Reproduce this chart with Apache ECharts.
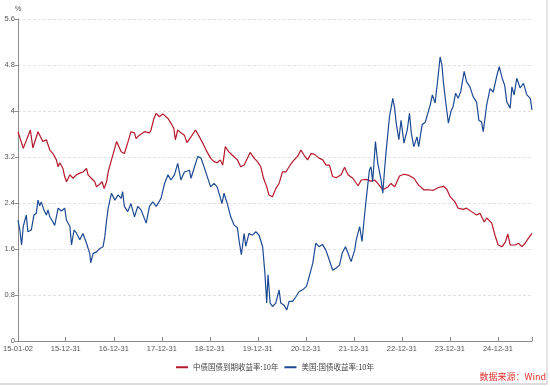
<!DOCTYPE html>
<html><head><meta charset="utf-8">
<script src="https://cdn.jsdelivr.net/npm/echarts@6/dist/echarts.min.js"></script>
<style>html,body{margin:0;padding:0;background:#fff}#c{width:550px;height:386px}</style>
</head><body><div id="c"></div>
<script>
const seriesNames = ['中债国债到期收益率:10年', '美国:国债收益率:10年'];
const xTickLabels = ['2015-01-02','2015-12-31','2016-12-31','2017-12-31','2018-12-31','2019-12-31','2020-12-31','2021-12-31','2022-12-31','2023-12-31','2024-12-31'];
const xEnd = '2025-09-16';
const yTicks = [0, 0.8, 1.6, 2.4, 3.2, 4, 4.8, 5.6];

const cnDates = ['2015-01-02','2015-02-11','2015-04-06','2015-04-25','2015-06-03','2015-07-10','2015-08-06','2015-09-01','2015-09-25','2015-10-21','2015-11-03','2015-11-16','2015-12-10','2015-12-23',
'2016-01-06','2016-02-01','2016-02-25','2016-03-21','2016-04-16','2016-05-10','2016-06-06','2016-06-18','2016-07-13','2016-08-08','2016-08-21','2016-09-16','2016-10-03','2016-10-18','2016-11-06','2016-11-18','2016-12-13',
'2017-01-03','2017-01-21','2017-02-01','2017-02-25','2017-03-21','2017-04-16','2017-05-10','2017-06-06','2017-06-18','2017-07-13','2017-08-21','2017-09-28','2017-10-10','2017-11-01','2017-11-18','2017-12-13',
'2018-01-08','2018-02-16','2018-03-10','2018-04-01','2018-04-13','2018-05-01','2018-05-25','2018-06-21','2018-07-10','2018-08-10','2018-09-13','2018-10-13','2018-11-08','2018-12-03',
'2019-01-06','2019-02-01','2019-02-25','2019-03-21','2019-04-08','2019-04-28','2019-05-25','2019-06-21','2019-07-29','2019-08-23','2019-09-18','2019-10-13','2019-11-03','2019-12-03','2019-12-28',
'2020-01-23','2020-02-13','2020-03-08','2020-03-25','2020-04-21','2020-05-16','2020-06-10','2020-07-06','2020-08-01','2020-08-25','2020-09-21','2020-10-28','2020-11-23','2020-12-18',
'2021-01-13','2021-02-08','2021-03-03','2021-04-10','2021-05-08','2021-06-03','2021-06-28','2021-07-23','2021-08-18','2021-09-25','2021-10-21','2021-11-16','2021-12-23',
'2022-02-01','2022-02-25','2022-04-03','2022-05-10','2022-06-06','2022-07-01','2022-08-08','2022-09-16','2022-10-10','2022-11-06','2022-12-13',
'2023-01-16','2023-02-23','2023-04-01','2023-05-08','2023-06-16','2023-07-23','2023-08-03','2023-08-28','2023-10-05','2023-11-13','2023-12-08',
'2024-01-02','2024-02-08','2024-03-03','2024-04-10','2024-05-06','2024-06-13','2024-07-21','2024-08-16','2024-09-18','2024-10-06','2024-11-14','2024-12-08',
'2025-01-02','2025-02-01','2025-02-25','2025-03-16','2025-04-03','2025-05-10','2025-06-05','2025-07-01','2025-07-26','2025-08-20','2025-09-16'];
const cnValues = [3.64,3.35,3.67,3.36,3.64,3.47,3.50,3.32,3.26,3.15,3.03,3.10,3.00,2.86,
2.77,2.89,2.83,2.89,2.92,2.94,3.00,2.89,2.83,2.77,2.68,2.73,2.77,2.65,2.77,2.94,3.15,
3.32,3.47,3.47,3.29,3.26,3.45,3.64,3.62,3.52,3.58,3.64,3.62,3.67,3.87,3.96,3.90,
3.95,3.87,3.79,3.70,3.50,3.67,3.62,3.58,3.45,3.55,3.67,3.55,3.44,3.32,
3.18,3.12,3.10,3.15,3.06,3.38,3.29,3.23,3.15,3.03,3.06,3.18,3.28,3.18,3.12,
3.03,2.83,2.68,2.54,2.51,2.65,2.74,2.94,2.94,3.03,3.12,3.21,3.32,3.23,
3.15,3.26,3.25,3.18,3.15,3.06,3.06,2.86,2.84,2.89,3.02,2.89,2.83,
2.70,2.80,2.81,2.78,2.80,2.74,2.63,2.68,2.74,2.68,2.87,
2.90,2.88,2.83,2.71,2.63,2.63,2.60,2.62,2.67,2.69,2.64,
2.51,2.42,2.31,2.29,2.31,2.25,2.19,2.22,2.07,2.14,2.05,1.84,
1.67,1.64,1.72,1.86,1.67,1.67,1.70,1.64,1.70,1.79,1.87];

const usDates = ['2015-01-02','2015-01-16','2015-01-29','2015-02-11','2015-02-23','2015-03-06','2015-03-18','2015-04-01','2015-04-13','2015-05-03','2015-05-21','2015-06-03','2015-06-16','2015-06-28','2015-07-18','2015-08-06','2015-08-18','2015-09-01','2015-09-25','2015-10-08','2015-11-03','2015-11-28','2015-12-23',
'2016-01-06','2016-02-01','2016-02-13','2016-03-03','2016-03-21','2016-04-16','2016-05-10','2016-06-06','2016-07-01','2016-07-08','2016-07-26','2016-08-21','2016-09-16','2016-10-10','2016-10-23','2016-11-06','2016-11-18','2016-12-13',
'2017-01-08','2017-02-01','2017-02-25','2017-03-08','2017-03-21','2017-04-16','2017-05-10','2017-06-06','2017-07-01','2017-07-26','2017-09-03','2017-09-28','2017-10-23','2017-11-18','2017-12-25',
'2018-01-21','2018-02-16','2018-03-10','2018-04-06','2018-05-01','2018-05-25','2018-06-21','2018-07-29','2018-08-10','2018-09-06','2018-10-01','2018-10-25','2018-11-08','2018-12-03',
'2019-01-06','2019-02-01','2019-02-25','2019-03-08','2019-04-03','2019-04-18','2019-05-13','2019-06-08','2019-07-03','2019-07-29','2019-08-10','2019-08-28','2019-09-18','2019-10-01','2019-10-25','2019-11-21','2019-12-16',
'2020-01-10','2020-02-06','2020-02-23','2020-03-08','2020-03-18','2020-04-03','2020-04-21','2020-05-16','2020-06-10','2020-06-23','2020-07-18','2020-08-08','2020-08-25','2020-09-21','2020-10-16','2020-11-10','2020-12-06',
'2021-01-04','2021-01-25','2021-02-21','2021-03-16','2021-04-10','2021-05-06','2021-06-01','2021-06-18','2021-06-28','2021-07-23','2021-08-18','2021-09-13','2021-10-03','2021-10-28','2021-11-16','2021-12-10',
'2022-01-06','2022-01-18','2022-02-13','2022-03-03','2022-03-21','2022-04-03','2022-04-28','2022-05-10','2022-05-23','2022-06-13','2022-07-01','2022-07-26','2022-08-08','2022-08-21','2022-09-03','2022-09-28','2022-10-10','2022-10-23','2022-11-06','2022-11-18','2022-12-08','2022-12-25',
'2023-01-16','2023-02-10','2023-02-27','2023-03-13','2023-04-01','2023-04-25','2023-05-08','2023-06-03','2023-06-28','2023-07-20','2023-08-03','2023-08-20','2023-09-10','2023-10-01','2023-10-18','2023-11-01','2023-11-13','2023-12-01','2023-12-20',
'2024-01-08','2024-01-25','2024-02-13','2024-03-03','2024-03-23','2024-04-18','2024-05-06','2024-06-01','2024-06-25','2024-07-21','2024-08-08','2024-08-28','2024-09-10','2024-10-06','2024-11-01','2024-11-25','2024-12-21',
'2025-01-10','2025-02-01','2025-02-20','2025-03-08','2025-04-03','2025-04-16','2025-05-03','2025-05-23','2025-06-18','2025-07-13','2025-08-08','2025-09-03','2025-09-16'];
const usValues = [2.10,1.93,1.67,1.99,2.10,2.19,1.90,1.88,1.93,2.19,2.22,2.45,2.35,2.42,2.28,2.19,2.28,2.16,2.07,2.01,2.31,2.26,2.31,
2.10,1.99,1.67,1.93,1.88,1.76,1.87,1.70,1.52,1.36,1.52,1.55,1.61,1.64,1.81,2.10,2.31,2.57,
2.45,2.54,2.48,2.60,2.34,2.25,2.39,2.16,2.34,2.28,2.05,2.34,2.42,2.34,2.48,
2.74,2.89,2.80,2.89,3.09,2.80,2.94,2.97,2.83,3.03,3.21,3.18,3.09,2.92,
2.68,2.74,2.68,2.65,2.39,2.57,2.39,2.16,2.02,1.97,1.76,1.50,1.87,1.65,1.87,1.84,1.90,
1.84,1.64,1.18,0.66,1.15,0.66,0.60,0.66,0.89,0.66,0.62,0.54,0.69,0.69,0.77,0.86,0.89,
0.95,1.12,1.35,1.70,1.64,1.68,1.58,1.47,1.44,1.23,1.27,1.32,1.53,1.64,1.53,1.38,
1.58,1.76,1.99,1.73,2.16,2.45,2.97,3.03,2.77,3.47,3.09,2.80,2.57,2.97,3.32,3.90,3.93,4.22,4.05,3.79,3.50,3.84,
3.44,3.67,3.96,3.61,3.38,3.55,3.38,3.76,3.81,3.99,4.10,4.28,4.14,4.57,4.94,4.80,4.48,4.13,3.79,
3.99,4.08,4.31,4.22,4.34,4.69,4.51,4.42,4.25,4.16,3.84,3.81,3.64,4.10,4.39,4.33,4.60,
4.77,4.57,4.45,4.16,4.05,4.42,4.28,4.57,4.40,4.48,4.28,4.22,4.02];

function ts(s){ const p = s.split('-').map(Number); return Date.UTC(p[0], p[1]-1, p[2]); }
function pair(dates, vals){ return dates.map((d,i)=>[ts(d), vals[i]]); }
function pad(n){ return (n<10?'0':'')+n; }

const labelTs = xTickLabels.map(ts);
const chart = echarts.init(document.getElementById('c'), null, {renderer:'canvas'});
chart.setOption({
  animation:false,
  backgroundColor:'#fff',
  grid:{left:18, right:18, top:19, bottom:45, containLabel:false},
  xAxis:{
    type:'value', min:ts(xTickLabels[0]), max:ts(xEnd), scale:true,
    axisLine:{lineStyle:{color:'#8c8c8c', width:1}},
    axisTick:{show:true, inside:true, length:4, customValues: labelTs.concat([ts(xEnd)]), lineStyle:{color:'#8c8c8c'}},
    axisLabel:{customValues: labelTs, hideOverlap:false, fontSize:7.5, color:'#555', margin:4, fontFamily:'Liberation Sans, Arial, sans-serif',
      formatter:function(v){ const d=new Date(v); return pad(d.getUTCFullYear()%100)+'-'+pad(d.getUTCMonth()+1)+'-'+pad(d.getUTCDate()); }},
    splitLine:{show:false}
  },
  yAxis:{
    type:'value', min:yTicks[0], max:yTicks[yTicks.length-1], interval:0.8,
    name:'%', nameLocation:'end', nameGap:6, nameTextStyle:{fontSize:7.5, color:'#555', align:'center'},
    axisLine:{show:true, lineStyle:{color:'#8c8c8c'}},
    axisTick:{show:true, length:3, lineStyle:{color:'#8c8c8c'}},
    axisLabel:{fontSize:7.5, color:'#555', margin:3, fontFamily:'Liberation Sans, Arial, sans-serif',
      formatter:function(v){ return String(Math.round(v*10)/10); }},
    splitLine:{show:true, lineStyle:{color:'#e2e2e2', type:[3,2], width:1}}
  },
  legend:{
    bottom:10, left:'center', itemWidth:12, itemHeight:2, itemGap:6, icon:'rect',
    textStyle:{fontSize:7.5, color:'#444', fontFamily:'Noto Sans CJK SC'},
    data:seriesNames
  },
  graphic:[
    {type:'text', right:4, top:372, style:{text:'数据来源：Wind', fill:'#e0302a', fontSize:9, fontFamily:'Noto Sans CJK SC'}},
    {type:'line', shape:{x1:0, y1:384, x2:547, y2:384}, style:{stroke:'#bbb', lineWidth:1}},
    {type:'line', shape:{x1:547, y1:0, x2:547, y2:384}, style:{stroke:'#ccc', lineWidth:1}}
  ],
  series:[
    {name:seriesNames[0], type:'line', data:pair(cnDates, cnValues), showSymbol:false, symbol:'none', lineStyle:{color:'#b5172b', width:1.2}, itemStyle:{color:'#b5172b'}},
    {name:seriesNames[1], type:'line', data:pair(usDates, usValues), showSymbol:false, symbol:'none', lineStyle:{color:'#1d4a94', width:1.2}, itemStyle:{color:'#1d4a94'}}
  ]
});
</script></body></html>
